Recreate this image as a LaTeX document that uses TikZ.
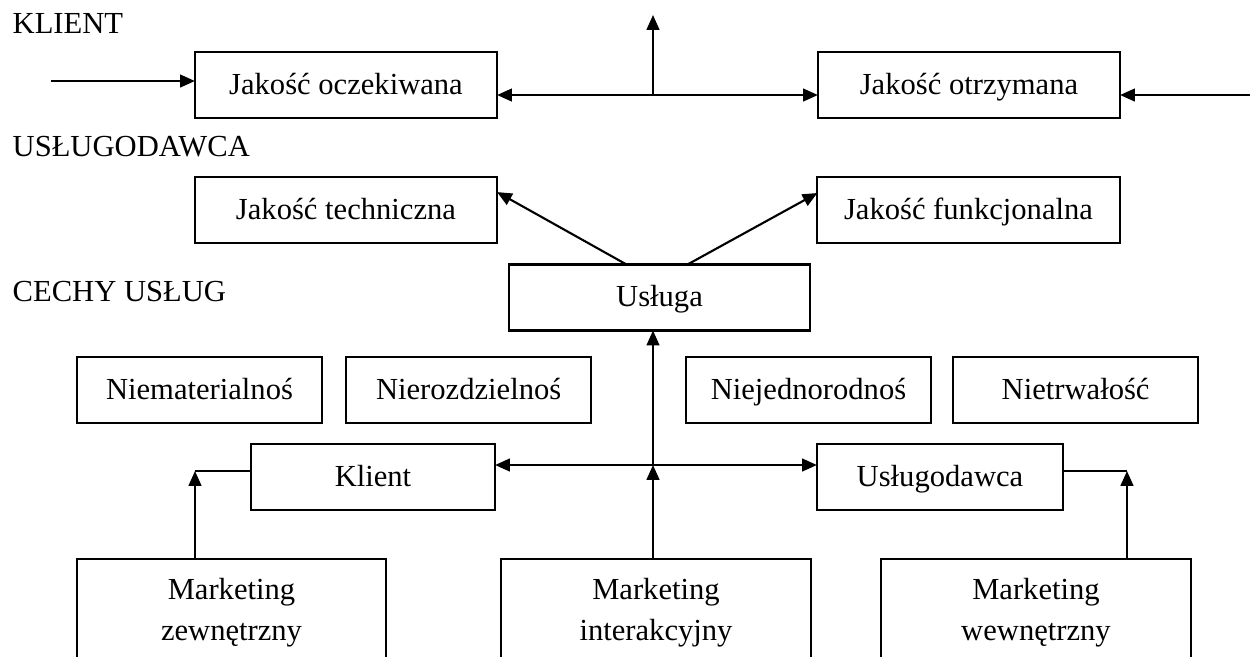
\documentclass[tikz,border=0pt]{standalone}
\usepackage{fontspec}
\setmainfont{Liberation Serif}
\usetikzlibrary{arrows.meta,calc,positioning}
\newdimen\hdim
\newdimen\wdim
\newdimen\fdim
\newdimen\mdim
\hdim=0.66cm
\wdim=3.02cm
\fdim=2.45cm
\mdim=3.09cm
\tikzstyle{element}=[
  draw=black,
  font={\fontsize{8.7pt}{11.7pt}\selectfont},
  inner sep=0pt,
  minimum height=\hdim,
  minimum width=\wdim,
  outer sep=0pt,
  rectangle,
  text centered,
  text height=0.75em,
  text depth=0.23em,
  line width=0.6pt,
]
\tikzstyle{feature}=[
  element,
  minimum width=\fdim,
]
\tikzstyle{marketing}=[
  element,
  align=center,
  anchor=north,
  minimum height=1.08cm,
  minimum width=\mdim,
  text height={},
  text depth={},
]
\tikzstyle{arrow}=[
  color=black,
  draw=black,
  line width=0.6pt,
]
\tikzstyle{tier}=[
  anchor=base west,
  font={\fontsize{8.7pt}{11.7pt}\selectfont},
  inner sep=0pt,
]
\tikzset{
  >={Triangle[length=4.2pt,width=3.6pt]},
}

\begin{document}
\begin{tikzpicture}[x=0.01cm, y=-0.01cm]
      \useasboundingbox (0,0) rectangle (1250,656);
      \clip (0,0) rectangle (1250,656);
      %%
      \node (klientlbl) [tier] at (12,33) {KLIENT};
      \node (uslugodlbl) [tier] at (12,156) {USŁUGODAWCA};
      \node (cechylbl) [tier] at (12,301) {CECHY USŁUG};
      %%
      \node (oczek) [element] at (346,85) {Jakość oczekiwana};
      \node (otrzym) [element] at (969,85) {Jakość otrzymana};
      \node (techn) [element, below=0.59cm of oczek] {Jakość techniczna};
      \node (funkc) [element] at (968.5,210) {Jakość funkcjonalna};
      \node (usluga) [element, minimum width=3.01cm] at (659.5,297.5) {Usługa};
      %%
      \node (niemat) [feature] at (199.5,390) {Niematerialnoś};
      \node (nieroz) [feature, right=0.24cm of niemat] {Nierozdzielnoś};
      \node (niejed) [feature] at (808.5,390) {Niejednorodnoś};
      \node (nietrw) [feature, right=0.22cm of niejed] {Nietrwałość};
      %%
      \node (klient) [feature, minimum width=2.44cm] at (373,477) {Klient};
      \node (uslugod) [feature, minimum width=2.46cm] at (940,477) {Usługodawca};
      \node (mzewn) [marketing] at (231.5,559) {Marketing\\zewnętrzny};
      \node (minter) [marketing] at (656,559) {Marketing\\interakcyjny};
      \node (mwewn) [marketing] at (1036,559) {Marketing\\wewnętrzny};
      %%
      \coordinate (L) at (51,81);
      \coordinate (R) at (1250,95);
      \coordinate (T) at (653,95);
      \coordinate (Tup) at (653,15);
      \draw [->, arrow] (L) -- (L -| oczek.west);
      \draw [->, arrow] (R) -- (R -| otrzym.east);
      \draw [<->, arrow] (T -| oczek.east) -- (T -| otrzym.west);
      \draw [->, arrow] (T) -- (Tup);
      %%
      \draw [->, arrow] ($(usluga.north)+(-33,0)$) -- ($(techn.east)+(0,-18)$);
      \draw [->, arrow] ($(usluga.north)+(28,0)$) -- ($(funkc.west)+(0,-17)$);
      %%
      \coordinate (J) at (653,465);
      \draw [->, arrow] (J) -- (J |- usluga.south);
      \draw [->, arrow] (J |- minter.north) -- (J);
      \draw [<->, arrow] (J -| klient.east) -- (J -| uslugod.west);
      %%
      \coordinate (K) at (195,471);
      \coordinate (U) at (1127,471);
      \draw [->, arrow] (K |- mzewn.north) -- (K);
      \draw [arrow] (K) -- (K -| klient.west);
      \draw [->, arrow] (U |- mwewn.north) -- (U);
      \draw [arrow] (U) -- (U -| uslugod.east);
\end{tikzpicture}
\end{document}
